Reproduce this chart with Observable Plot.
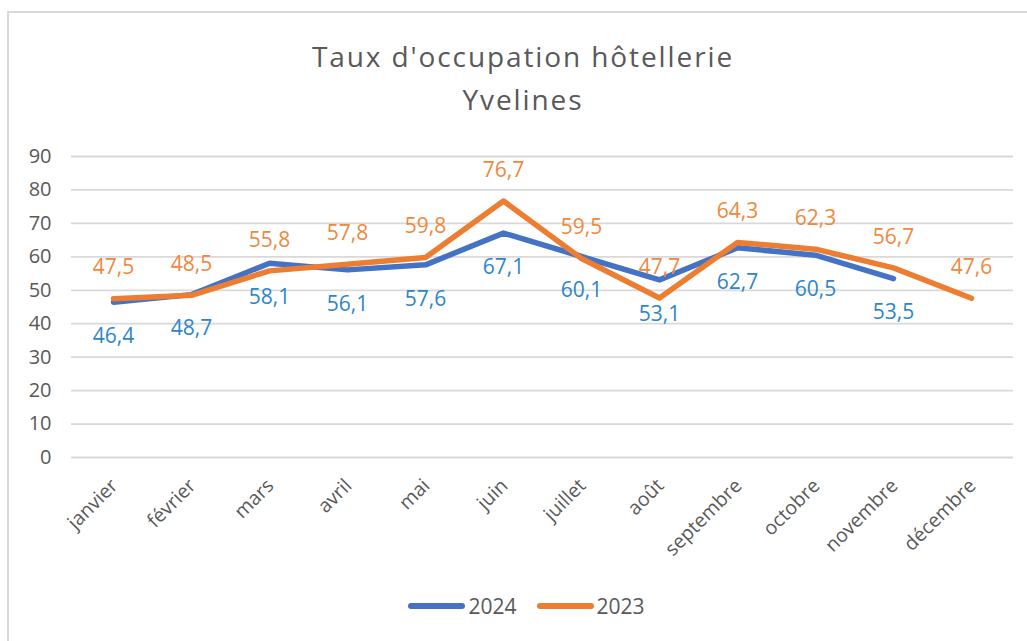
<!DOCTYPE html>
<html>
<head>
<meta charset="utf-8">
<script src="https://cdn.jsdelivr.net/npm/d3@7"></script>
<script src="https://cdn.jsdelivr.net/npm/@observablehq/plot@0.6"></script>
<style>
  html, body { margin: 0; padding: 0; background: #fff; width: 1027px; height: 641px; overflow: hidden; }
  body { position: relative; font-family: "Open Sans", sans-serif; color: #595959; }
  #frame { position: absolute; left: 7px; top: 11px; width: 1040px; height: 660px; border: 2px solid #d9d9d9; box-sizing: border-box; }
  #title { position: absolute; left: 0; top: 35px; width: 1046px; text-align: center; font-size: 28px; letter-spacing: 1.9px; line-height: 43px; color: #595959; }
  #chart { position: absolute; left: 0; top: 130px; }
  #legend { position: absolute; left: 0; top: 592px; width: 1053px; display: flex; justify-content: center; align-items: center; font-size: 21px; color: #595959; }
  .sw { display: inline-block; width: 57px; height: 6px; border-radius: 3px; margin-right: 3px; }
  .item { display: flex; align-items: center; margin: 0 10px; }
</style>
</head>
<body>
<div id="frame"></div>
<div id="title">Taux d'occupation hôtellerie<br>Yvelines</div>
<div id="chart"></div>
<div id="legend"></div>
<script>
const months = ["janvier","février","mars","avril","mai","juin","juillet","août","septembre","octobre","novembre","décembre"];
const values2024 = [46.4, 48.7, 58.1, 56.1, 57.6, 67.1, 60.1, 53.1, 62.7, 60.5, 53.5, null];
const values2023 = [47.5, 48.5, 55.8, 57.8, 59.8, 76.7, 59.5, 47.7, 64.3, 62.3, 56.7, 47.6];
const yTicks = [0,10,20,30,40,50,60,70,80,90];
const seriesNames = ["2024", "2023"];
const seriesColors = ["#4472C4", "#ED7D31"];
const labelColors = ["#2E86C8", "#F0883E"];

const rows = [];
[values2024, values2023].forEach((vals, si) => {
  vals.forEach((v, i) => { if (v != null) rows.push({month: months[i], value: v, series: seriesNames[si]}); });
});
const d2024 = rows.filter(d => d.series === "2024");
const d2023 = rows.filter(d => d.series === "2023");
const fmt = v => v.toFixed(1).replace(".", ",");

const chart = Plot.plot({
  width: 1027,
  height: 440,
  marginLeft: 71,
  marginRight: 14,
  marginTop: 26,
  marginBottom: 113,
  style: { fontFamily: "Open Sans, sans-serif", fontSize: "20px", color: "#595959", background: "transparent" },
  x: { type: "point", domain: months, padding: 0.5 },
  y: { domain: [0, 90] },
  marks: [
    Plot.gridY(yTicks, { stroke: "#d9d9d9", strokeOpacity: 1, strokeWidth: 1.8 }),
    Plot.axisY(yTicks, { tickSize: 0, tickPadding: 20, fontSize: 20, fill: "#595959", label: null }),
    Plot.axisX({ tickSize: 0, tickPadding: 25, tickRotate: -45, fontSize: 19.5, fill: "#595959", label: null, dx: 1 }),
    Plot.line(d2024, { x: "month", y: "value", stroke: seriesColors[0], strokeWidth: 5.5, strokeLinejoin: "round", strokeLinecap: "round" }),
    Plot.line(d2023, { x: "month", y: "value", stroke: seriesColors[1], strokeWidth: 5.5, strokeLinejoin: "round", strokeLinecap: "round" }),
    Plot.text(d2024, { x: "month", y: "value", text: d => fmt(d.value), dy: 34, fill: labelColors[0], fontSize: 21 }),
    Plot.text(d2023, { x: "month", y: "value", text: d => fmt(d.value), dy: -31, fill: labelColors[1], fontSize: 21 })
  ]
});
document.getElementById("chart").appendChild(chart);

const legend = document.getElementById("legend");
seriesNames.forEach((name, i) => {
  const item = document.createElement("div");
  item.className = "item";
  const sw = document.createElement("span");
  sw.className = "sw";
  sw.style.background = seriesColors[i];
  item.appendChild(sw);
  item.appendChild(document.createTextNode(name));
  legend.appendChild(item);
});
</script>
</body>
</html>
